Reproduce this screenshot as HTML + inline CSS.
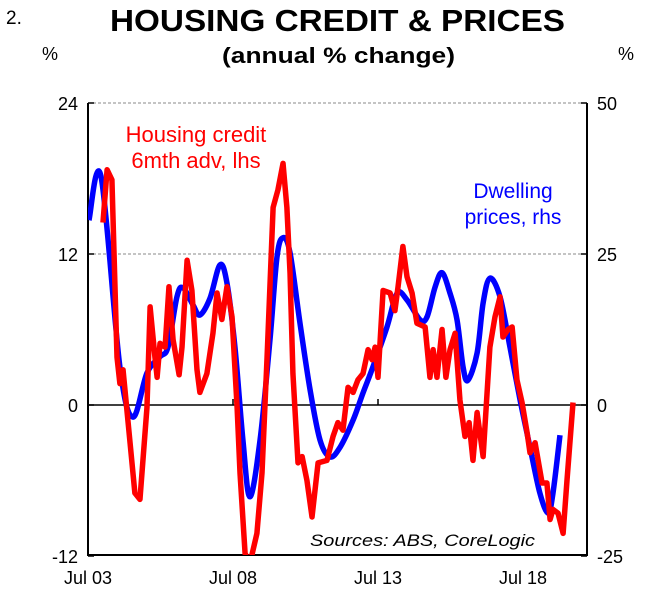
<!DOCTYPE html>
<html><head><meta charset="utf-8">
<style>
body{margin:0;background:#fff;}
svg text{font-family:"Liberation Sans",Arial,sans-serif;}
</style></head>
<body>
<svg id="chart" width="660" height="608" viewBox="0 0 660 608" xmlns="http://www.w3.org/2000/svg">
<text x="6" y="24" font-size="19">2.</text>
<text x="110" y="31" font-size="31" font-weight="bold" textLength="455" lengthAdjust="spacingAndGlyphs">HOUSING CREDIT &amp; PRICES</text>
<text x="222" y="63" font-size="22" font-weight="bold" textLength="233" lengthAdjust="spacingAndGlyphs">(annual % change)</text>
<text x="50" y="60" font-size="18" text-anchor="middle">%</text>
<text x="626" y="60" font-size="18" text-anchor="middle">%</text>
<g id="grid"></g>
<g id="axes"></g>
<g id="series"></g>
<text x="196" y="142" font-size="22" fill="#ff0000" text-anchor="middle">Housing credit</text>
<text x="196" y="168" font-size="22" fill="#ff0000" text-anchor="middle">6mth adv, lhs</text>
<text x="513" y="198" font-size="21" fill="#0000ff" text-anchor="middle">Dwelling</text>
<text x="513" y="224" font-size="21" fill="#0000ff" text-anchor="middle">prices, rhs</text>
<text x="310" y="546" font-size="17" font-style="italic" textLength="225" lengthAdjust="spacingAndGlyphs">Sources: ABS, CoreLogic</text>
</svg>
<script>
// months since Jul 2003 and values
const creditMonths=[6.2,7.9,9.9,12.0,13.2,14.5,16.6,19.4,21.5,24.4,25.7,27.7,28.6,29.8,31.9,33.5,35.2,37.7,38.9,41.0,43.0,45.1,46.3,49.2,51.7,53.4,55.4,57.5,59.6,61.7,62.9,65.0,67.0,69.9,72.0,74.1,76.6,78.6,80.7,82.3,83.6,84.8,86.9,88.6,90.6,92.7,95.2,98.9,101.4,103.4,105.5,107.6,109.7,111.7,113.8,115.9,117.5,118.8,120.0,122.1,125.0,127.0,128.3,130.3,132.0,134.1,136.1,139.5,141.5,142.8,144.4,146.5,148.1,149.8,151.9,153.9,156.0,157.7,159.3,161.0,163.5,166.3,168.4,170.5,171.7,173.8,175.5,177.5,179.6,181.7,182.9,185.0,187.9,189.9,191.2,192.4,194.5,196.6,198.2,200.7];
const creditValues=[14.5,18.7,17.9,3.8,1.7,2.8,-1.4,-7.0,-7.5,-0.2,7.8,3.8,2.2,4.9,4.6,9.4,5.2,2.4,4.6,11.5,9.1,2.8,1.0,2.5,5.7,8.9,6.8,9.4,7.0,-0.2,-5.4,-11.8,-12.6,-10.2,-5.4,3.8,15.7,17.1,19.2,15.7,10.5,2.5,-4.6,-4.1,-6.0,-8.9,-4.6,-4.4,-2.5,-1.4,-2.0,1.4,1.0,2.0,2.5,4.4,3.6,4.6,2.2,9.1,8.9,7.5,9.4,12.6,10.2,8.9,6.5,6.2,2.2,4.4,2.2,6.0,2.2,4.4,5.7,0.4,-2.5,-1.4,-4.4,-0.6,-4.1,4.6,7.0,8.6,5.4,6.0,6.2,2.0,0.2,-2.2,-3.8,-3.0,-6.2,-6.2,-9.1,-8.3,-8.6,-10.2,-6.0,0.2];
const priceMonths=[0.4,5.4,13.2,18.6,24.4,29.8,33.1,36.8,39.3,43.4,46.3,50.5,54.6,57.5,60.8,64.1,67.0,71.2,75.3,78.2,80.7,83.6,87.7,91.9,96.0,100.1,104.3,109.7,113.8,117.9,123.7,127.9,132.0,137.4,140.3,143.6,146.5,149.8,152.7,155.2,157.2,161.0,163.5,166.3,170.5,174.6,178.8,182.9,187.0,190.4,192.4,195.3];
const priceValues=[30.6,37.8,6.3,-2.0,5.3,8.0,9.6,17.9,19.4,16.6,14.9,17.7,23.2,20.2,9.6,-5.8,-15.2,-5.8,10.8,24.5,27.7,25.2,13.6,2.5,-5.8,-8.6,-7.0,-2.5,2.0,6.3,12.9,18.5,17.4,14.1,14.6,19.5,21.9,18.5,14.1,6.3,4.1,8.6,16.9,21.0,17.9,9.6,0.8,-7.0,-14.6,-17.9,-14.6,-5.0];
const leftTicks=[24,12,0,-12];
const rightTicks=[50,25,0,-25];
const xTickLabels=["Jul 03","Jul 08","Jul 13","Jul 18"];
const xTickMonths=[0,60,120,180];

const X0=88,X1=587,Y0=103,Y1=555;
const ns="http://www.w3.org/2000/svg";
const xs=m=>X0+m*(145/60);
const yl=v=>405-(v/12)*151;
const yr=v=>405-(v/25)*151;
function mk(tag,attrs,parent){const e=document.createElementNS(ns,tag);for(const k in attrs)e.setAttribute(k,attrs[k]);parent.appendChild(e);return e;}
function smooth(pts){let d='M'+pts[0][0]+','+pts[0][1];for(let i=0;i<pts.length-1;i++){const p0=pts[i-1]||pts[i],p1=pts[i],p2=pts[i+1],p3=pts[i+2]||p2;const c1=[p1[0]+(p2[0]-p0[0])/6,p1[1]+(p2[1]-p0[1])/6],c2=[p2[0]-(p3[0]-p1[0])/6,p2[1]-(p3[1]-p1[1])/6];d+=`C${c1[0]},${c1[1]} ${c2[0]},${c2[1]} ${p2[0]},${p2[1]}`;}return d;}
const grid=document.getElementById('grid'),axes=document.getElementById('axes'),ser=document.getElementById('series');
leftTicks.forEach((t,i)=>{
  const y=yl(t);
  if(t>0){const g=mk('line',{x1:X0,x2:X1,y1:y,y2:y,stroke:'#888','stroke-width':1,'stroke-dasharray':'3,2'},grid);
  
  }
  const tk=mk('line',{x1:X0,x2:X0+6,y1:y,y2:y,stroke:'#000','stroke-width':1.5},axes);
  
  
  const lt=mk('text',{x:78,y:y+7,'font-size':18,'text-anchor':'end'},axes);lt.textContent=t;
  
  
});
rightTicks.forEach(t=>{
  const y=yr(t);
  const tk=mk('line',{x1:X1-6,x2:X1,y1:y,y2:y,stroke:'#000','stroke-width':1.5},axes);
  
  
  const lt=mk('text',{x:597,y:y+7,'font-size':18},axes);lt.textContent=t;
  
  
});
const zl=mk('line',{x1:X0,x2:X1,y1:yl(0),y2:yl(0),stroke:'#000','stroke-width':1.5},axes);


const frame=mk('path',{d:`M${X0},${Y0}V${Y1}H${X1}V${Y0}`,fill:'none',stroke:'#000','stroke-width':2},axes);


xTickMonths.forEach((m,i)=>{
  const x=xs(m);
  const tk=mk('line',{x1:x,x2:x,y1:yl(0),y2:yl(0)-6,stroke:'#000','stroke-width':1.5},axes);
  
  
  const lt=mk('text',{x:x,y:584,'font-size':18,'text-anchor':'middle'},axes);lt.textContent=xTickLabels[i];
  
  
});
const cp=mk('clipPath',{id:'pc'},ser);
mk('rect',{x:X0,y:Y0-10,width:X1-X0,height:Y1-Y0+10},cp);
const bp=mk('path',{d:smooth(priceMonths.map((m,i)=>[xs(m),yr(priceValues[i])])),fill:'none',stroke:'#0000ff','stroke-width':5.5,'stroke-linejoin':'round','clip-path':'url(#pc)'},ser);


const rp=mk('polyline',{points:creditMonths.map((m,i)=>xs(m)+','+yl(creditValues[i])).join(' '),fill:'none',stroke:'#ff0000','stroke-width':5.5,'stroke-linejoin':'round','clip-path':'url(#pc)'},ser);


</script>
</body></html>
